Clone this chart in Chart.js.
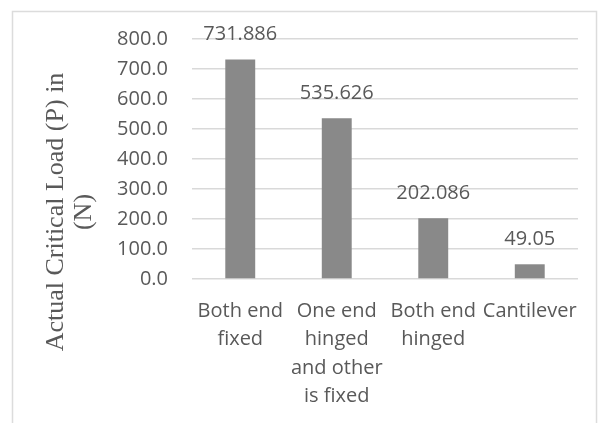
<!DOCTYPE html>
<html>
<head>
<meta charset="utf-8">
<script src="https://cdn.jsdelivr.net/npm/chart.js@4"></script>
<style>
  body { margin: 0; background: #fff; }
  canvas { display: block; }
</style>
</head>
<body>
<canvas id="loadChart" width="606" height="423"></canvas>
<script>
const categories = [
  ['Both end', 'fixed'],
  ['One end', 'hinged', 'and other', 'is fixed'],
  ['Both end', 'hinged'],
  ['Cantilever']
];
const loads = [731.886, 535.626, 202.086, 49.05];
const yTitleLines = ['Actual Critical Load (P) in', '(N)'];
const yMin = 0;
const yMax = 800;
const yStep = 100;

const textColor = '#595959';
const gridColor = '#d9d9d9';
const barColor = '#898989';

// light frame round the chart, like the cropped Excel chart area
const framePlugin = {
  id: 'frame',
  beforeDraw(chart) {
    const ctx = chart.ctx;
    ctx.save();
    ctx.strokeStyle = '#dcdcdc';
    ctx.lineWidth = 1.5;
    ctx.strokeRect(12.5, 11.5, 584, 500);
    ctx.restore();
  }
};

// value labels above each bar
const valueLabels = {
  id: 'valueLabels',
  afterDatasetsDraw(chart) {
    const ctx = chart.ctx;
    const meta = chart.getDatasetMeta(0);
    ctx.save();
    ctx.font = '20px "Open Sans"';
    ctx.fillStyle = textColor;
    ctx.textAlign = 'center';
    ctx.textBaseline = 'middle';
    meta.data.forEach((bar, i) => {
      ctx.fillText(String(loads[i]), bar.x, bar.y - 25);
    });
    ctx.restore();
  }
};

// rotated axis title, centred lower than the plot like the original
const yTitle = {
  id: 'yTitle',
  afterDraw(chart) {
    const ctx = chart.ctx;
    ctx.save();
    ctx.translate(56, 212);
    ctx.rotate(-Math.PI / 2);
    ctx.font = '26px "Liberation Serif"';
    ctx.fillStyle = textColor;
    ctx.textAlign = 'center';
    ctx.textBaseline = 'middle';
    yTitleLines.forEach((line, i) => {
      ctx.fillText(line, 0, i * 28);
    });
    ctx.restore();
  }
};

new Chart(document.getElementById('loadChart'), {
  type: 'bar',
  data: {
    labels: categories,
    datasets: [{
      data: loads,
      backgroundColor: barColor,
      borderWidth: 0,
      categoryPercentage: 1,
      barPercentage: 0.31
    }]
  },
  options: {
    responsive: false,
    animation: false,
    devicePixelRatio: 1,
    layout: { padding: { left: 0, right: 28, top: 39, bottom: 0 } },
    plugins: {
      legend: { display: false },
      tooltip: { enabled: false }
    },
    scales: {
      y: {
        min: yMin,
        max: yMax,
        afterFit(axis) { axis.width = 192; },
        border: { display: false },
        grid: { color: gridColor, lineWidth: 1.5, drawTicks: false },
        ticks: {
          stepSize: yStep,
          padding: 24,
          color: textColor,
          font: { family: 'Open Sans', size: 20 },
          callback: v => v.toFixed(1)
        }
      },
      x: {
        afterFit(axis) { axis.height = 144; },
        border: { display: false },
        grid: { display: false, drawTicks: false },
        ticks: {
          padding: 18,
          autoSkip: false,
          maxRotation: 0,
          color: textColor,
          font: { family: 'Open Sans', size: 20, lineHeight: 1.42 }
        }
      }
    }
  },
  plugins: [framePlugin, valueLabels, yTitle]
});
</script>
</body>
</html>
